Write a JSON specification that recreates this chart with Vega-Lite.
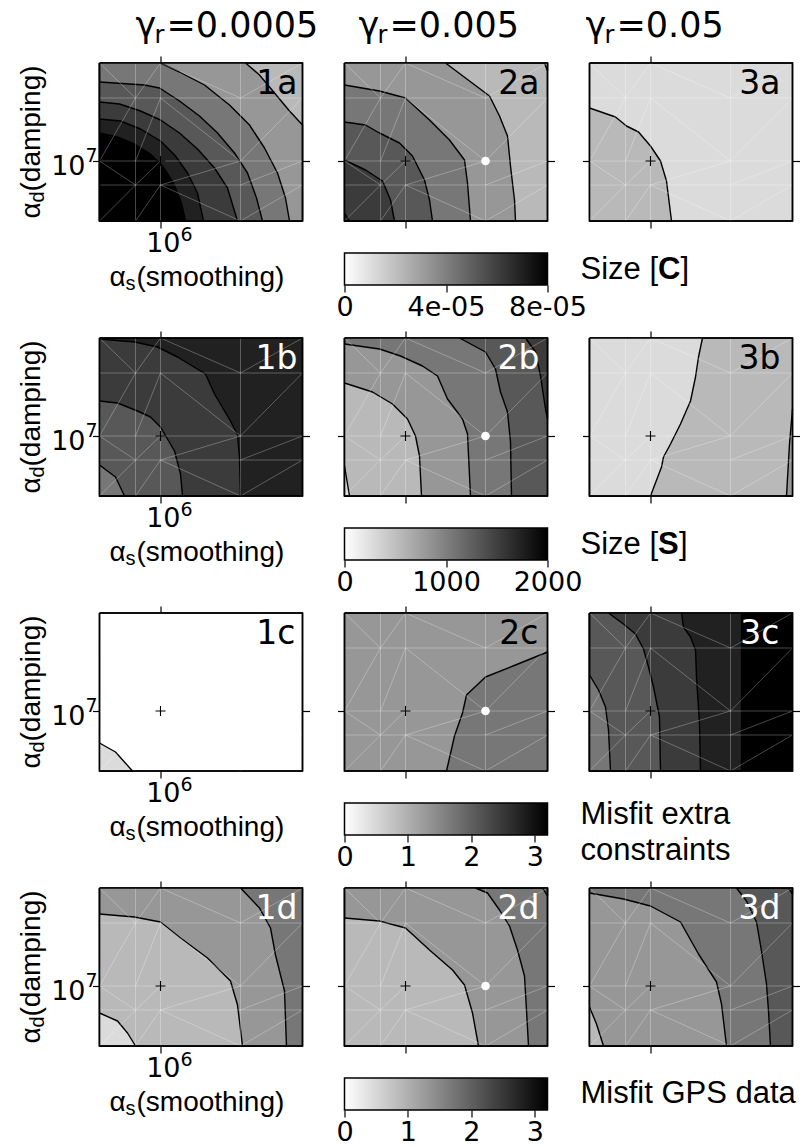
{
"$schema":"https://vega.github.io/schema/vega-lite/v6.json",
"background":"white",
"padding":{"left":16.5,"top":9,"right":5,"bottom":2},
"config":{"font":"Liberation Sans","view":{"stroke":null},"axis":{"domain":false,"grid":false,"labels":false,"ticks":true,"tickSize":7,"tickColor":"black","tickWidth":1.2,"labelFont":"DejaVu Sans"},"text":{"font":"DejaVu Sans","fill":"black"}},
"datasets":{
"plus":[{"x":6,"y":7}],
"dots":[{"x":6.8,"y":7}],
"mesh":[
{"x1":5.75,"y1":6.4,"x2":5.75,"y2":7.98},{"x1":6.0,"y1":6.4,"x2":6.0,"y2":7.98},{"x1":6.8,"y1":6.4,"x2":6.8,"y2":7.98},
{"x1":5.39,"y1":7.63,"x2":7.42,"y2":7.63},{"x1":5.39,"y1":7.0,"x2":7.42,"y2":7.0},{"x1":5.39,"y1":6.76,"x2":7.42,"y2":6.76},
{"x1":5.39,"y1":7.98,"x2":5.75,"y2":7.63},{"x1":5.75,"y1":7.63,"x2":6.0,"y2":7.98},{"x1":6.0,"y1":7.98,"x2":6.8,"y2":7.63},{"x1":6.8,"y1":7.63,"x2":7.42,"y2":7.98},
{"x1":5.39,"y1":7.0,"x2":5.75,"y2":7.63},{"x1":5.75,"y1":7.0,"x2":6.0,"y2":7.63},{"x1":6.0,"y1":7.63,"x2":6.8,"y2":7.0},{"x1":6.8,"y1":7.0,"x2":7.42,"y2":7.63},
{"x1":5.39,"y1":7.0,"x2":5.75,"y2":6.76},{"x1":5.75,"y1":6.76,"x2":6.0,"y2":7.0},{"x1":6.0,"y1":6.76,"x2":6.8,"y2":7.0},{"x1":6.8,"y1":6.76,"x2":7.42,"y2":7.0},
{"x1":5.39,"y1":6.4,"x2":5.75,"y2":6.76},{"x1":5.75,"y1":6.4,"x2":6.0,"y2":6.76},{"x1":6.0,"y1":6.76,"x2":6.8,"y2":6.4},{"x1":6.8,"y1":6.4,"x2":7.42,"y2":6.76}
],
"bands":[
{"p":"1a","c":0,"v":2e-05,"x":5.39,"y":7.98},{"p":"1a","c":0,"v":2e-05,"x":7.42,"y":7.98},{"p":"1a","c":0,"v":2e-05,"x":7.42,"y":6.4},{"p":"1a","c":0,"v":2e-05,"x":5.39,"y":6.4},{"p":"1a","c":0,"v":2e-05,"x":5.39,"y":7.98},
{"p":"1a","c":1,"v":3e-05,"x":6.85,"y":7.98},{"p":"1a","c":1,"v":3e-05,"x":6.99,"y":7.86},{"p":"1a","c":1,"v":3e-05,"x":7.14,"y":7.68},{"p":"1a","c":1,"v":3e-05,"x":7.29,"y":7.5},{"p":"1a","c":1,"v":3e-05,"x":7.42,"y":7.36},{"p":"1a","c":1,"v":3e-05,"x":7.42,"y":6.4},{"p":"1a","c":1,"v":3e-05,"x":5.39,"y":6.4},{"p":"1a","c":1,"v":3e-05,"x":5.39,"y":7.98},
{"p":"1a","c":2,"v":4e-05,"x":6.0,"y":7.98},{"p":"1a","c":2,"v":4e-05,"x":6.19,"y":7.89},{"p":"1a","c":2,"v":4e-05,"x":6.44,"y":7.76},{"p":"1a","c":2,"v":4e-05,"x":6.69,"y":7.56},{"p":"1a","c":2,"v":4e-05,"x":6.89,"y":7.36},{"p":"1a","c":2,"v":4e-05,"x":7.04,"y":7.13},{"p":"1a","c":2,"v":4e-05,"x":7.17,"y":6.88},{"p":"1a","c":2,"v":4e-05,"x":7.25,"y":6.63},{"p":"1a","c":2,"v":4e-05,"x":7.29,"y":6.4},{"p":"1a","c":2,"v":4e-05,"x":5.39,"y":6.4},{"p":"1a","c":2,"v":4e-05,"x":5.39,"y":7.98},
{"p":"1a","c":3,"v":5e-05,"x":5.39,"y":7.79},{"p":"1a","c":3,"v":5e-05,"x":5.84,"y":7.76},{"p":"1a","c":3,"v":5e-05,"x":5.99,"y":7.73},{"p":"1a","c":3,"v":5e-05,"x":6.19,"y":7.6},{"p":"1a","c":3,"v":5e-05,"x":6.39,"y":7.45},{"p":"1a","c":3,"v":5e-05,"x":6.57,"y":7.28},{"p":"1a","c":3,"v":5e-05,"x":6.74,"y":7.08},{"p":"1a","c":3,"v":5e-05,"x":6.87,"y":6.88},{"p":"1a","c":3,"v":5e-05,"x":6.96,"y":6.63},{"p":"1a","c":3,"v":5e-05,"x":7.02,"y":6.4},{"p":"1a","c":3,"v":5e-05,"x":5.39,"y":6.4},
{"p":"1a","c":4,"v":6e-05,"x":5.39,"y":7.59},{"p":"1a","c":4,"v":6e-05,"x":5.59,"y":7.57},{"p":"1a","c":4,"v":6e-05,"x":5.8,"y":7.5},{"p":"1a","c":4,"v":6e-05,"x":6.0,"y":7.41},{"p":"1a","c":4,"v":6e-05,"x":6.19,"y":7.28},{"p":"1a","c":4,"v":6e-05,"x":6.37,"y":7.12},{"p":"1a","c":4,"v":6e-05,"x":6.54,"y":6.93},{"p":"1a","c":4,"v":6e-05,"x":6.67,"y":6.73},{"p":"1a","c":4,"v":6e-05,"x":6.77,"y":6.4},{"p":"1a","c":4,"v":6e-05,"x":5.39,"y":6.4},
{"p":"1a","c":5,"v":7e-05,"x":5.39,"y":7.42},{"p":"1a","c":5,"v":7e-05,"x":5.6,"y":7.4},{"p":"1a","c":5,"v":7e-05,"x":5.8,"y":7.32},{"p":"1a","c":5,"v":7e-05,"x":6.0,"y":7.2},{"p":"1a","c":5,"v":7e-05,"x":6.15,"y":7.05},{"p":"1a","c":5,"v":7e-05,"x":6.27,"y":6.88},{"p":"1a","c":5,"v":7e-05,"x":6.37,"y":6.68},{"p":"1a","c":5,"v":7e-05,"x":6.43,"y":6.4},{"p":"1a","c":5,"v":7e-05,"x":5.39,"y":6.4},
{"p":"1a","c":6,"v":8e-05,"x":5.39,"y":7.28},{"p":"1a","c":6,"v":8e-05,"x":5.57,"y":7.24},{"p":"1a","c":6,"v":8e-05,"x":5.74,"y":7.17},{"p":"1a","c":6,"v":8e-05,"x":5.9,"y":7.07},{"p":"1a","c":6,"v":8e-05,"x":6.03,"y":6.94},{"p":"1a","c":6,"v":8e-05,"x":6.13,"y":6.78},{"p":"1a","c":6,"v":8e-05,"x":6.21,"y":6.58},{"p":"1a","c":6,"v":8e-05,"x":6.25,"y":6.4},{"p":"1a","c":6,"v":8e-05,"x":5.39,"y":6.4},
{"p":"2a","c":0,"v":2e-05,"x":5.39,"y":7.98},{"p":"2a","c":0,"v":2e-05,"x":7.42,"y":7.98},{"p":"2a","c":0,"v":2e-05,"x":7.42,"y":6.4},{"p":"2a","c":0,"v":2e-05,"x":5.39,"y":6.4},{"p":"2a","c":0,"v":2e-05,"x":5.39,"y":7.98},
{"p":"2a","c":1,"v":1e-05,"x":7.39,"y":7.98},{"p":"2a","c":1,"v":1e-05,"x":7.42,"y":7.9},{"p":"2a","c":1,"v":1e-05,"x":7.42,"y":7.98},
{"p":"2a","c":2,"v":3e-05,"x":6.4,"y":7.98},{"p":"2a","c":2,"v":3e-05,"x":6.84,"y":7.65},{"p":"2a","c":2,"v":3e-05,"x":6.94,"y":7.45},{"p":"2a","c":2,"v":3e-05,"x":7.02,"y":7.25},{"p":"2a","c":2,"v":3e-05,"x":7.05,"y":6.95},{"p":"2a","c":2,"v":3e-05,"x":7.09,"y":6.61},{"p":"2a","c":2,"v":3e-05,"x":7.1,"y":6.4},{"p":"2a","c":2,"v":3e-05,"x":5.39,"y":6.4},{"p":"2a","c":2,"v":3e-05,"x":5.39,"y":7.98},
{"p":"2a","c":3,"v":4e-05,"x":5.39,"y":7.76},{"p":"2a","c":3,"v":4e-05,"x":5.74,"y":7.7},{"p":"2a","c":3,"v":4e-05,"x":6.0,"y":7.63},{"p":"2a","c":3,"v":4e-05,"x":6.24,"y":7.41},{"p":"2a","c":3,"v":4e-05,"x":6.44,"y":7.21},{"p":"2a","c":3,"v":4e-05,"x":6.59,"y":7.01},{"p":"2a","c":3,"v":4e-05,"x":6.62,"y":6.78},{"p":"2a","c":3,"v":4e-05,"x":6.65,"y":6.4},{"p":"2a","c":3,"v":4e-05,"x":5.39,"y":6.4},
{"p":"2a","c":4,"v":5e-05,"x":5.39,"y":7.39},{"p":"2a","c":4,"v":5e-05,"x":5.6,"y":7.36},{"p":"2a","c":4,"v":5e-05,"x":5.74,"y":7.28},{"p":"2a","c":4,"v":5e-05,"x":5.94,"y":7.18},{"p":"2a","c":4,"v":5e-05,"x":6.07,"y":7.05},{"p":"2a","c":4,"v":5e-05,"x":6.19,"y":6.81},{"p":"2a","c":4,"v":5e-05,"x":6.24,"y":6.61},{"p":"2a","c":4,"v":5e-05,"x":6.27,"y":6.4},{"p":"2a","c":4,"v":5e-05,"x":5.39,"y":6.4},
{"p":"2a","c":5,"v":6e-05,"x":5.39,"y":7.01},{"p":"2a","c":5,"v":6e-05,"x":5.6,"y":6.91},{"p":"2a","c":5,"v":6e-05,"x":5.77,"y":6.8},{"p":"2a","c":5,"v":6e-05,"x":5.85,"y":6.61},{"p":"2a","c":5,"v":6e-05,"x":5.89,"y":6.4},{"p":"2a","c":5,"v":6e-05,"x":5.39,"y":6.4},
{"p":"2a","c":6,"v":7e-05,"x":5.39,"y":6.48},{"p":"2a","c":6,"v":7e-05,"x":5.44,"y":6.4},{"p":"2a","c":6,"v":7e-05,"x":5.39,"y":6.4},
{"p":"3a","c":0,"v":1e-05,"x":5.39,"y":7.98},{"p":"3a","c":0,"v":1e-05,"x":7.42,"y":7.98},{"p":"3a","c":0,"v":1e-05,"x":7.42,"y":6.4},{"p":"3a","c":0,"v":1e-05,"x":5.39,"y":6.4},{"p":"3a","c":0,"v":1e-05,"x":5.39,"y":7.98},
{"p":"3a","c":1,"v":2e-05,"x":5.39,"y":7.53},{"p":"3a","c":1,"v":2e-05,"x":5.65,"y":7.44},{"p":"3a","c":1,"v":2e-05,"x":5.76,"y":7.35},{"p":"3a","c":1,"v":2e-05,"x":5.88,"y":7.29},{"p":"3a","c":1,"v":2e-05,"x":6.0,"y":7.15},{"p":"3a","c":1,"v":2e-05,"x":6.1,"y":7.0},{"p":"3a","c":1,"v":2e-05,"x":6.16,"y":6.8},{"p":"3a","c":1,"v":2e-05,"x":6.21,"y":6.4},{"p":"3a","c":1,"v":2e-05,"x":5.39,"y":6.4},
{"p":"1b","c":0,"v":1750,"x":5.39,"y":7.98},{"p":"1b","c":0,"v":1750,"x":7.42,"y":7.98},{"p":"1b","c":0,"v":1750,"x":7.42,"y":6.4},{"p":"1b","c":0,"v":1750,"x":5.39,"y":6.4},{"p":"1b","c":0,"v":1750,"x":5.39,"y":7.98},
{"p":"1b","c":1,"v":1500,"x":5.39,"y":7.97},{"p":"1b","c":1,"v":1500,"x":5.74,"y":7.94},{"p":"1b","c":1,"v":1500,"x":5.97,"y":7.89},{"p":"1b","c":1,"v":1500,"x":6.17,"y":7.79},{"p":"1b","c":1,"v":1500,"x":6.45,"y":7.62},{"p":"1b","c":1,"v":1500,"x":6.54,"y":7.42},{"p":"1b","c":1,"v":1500,"x":6.7,"y":7.15},{"p":"1b","c":1,"v":1500,"x":6.77,"y":7.01},{"p":"1b","c":1,"v":1500,"x":6.79,"y":6.79},{"p":"1b","c":1,"v":1500,"x":6.8,"y":6.4},{"p":"1b","c":1,"v":1500,"x":5.39,"y":6.4},
{"p":"1b","c":2,"v":1250,"x":5.39,"y":7.35},{"p":"1b","c":2,"v":1250,"x":5.57,"y":7.33},{"p":"1b","c":2,"v":1250,"x":5.77,"y":7.25},{"p":"1b","c":2,"v":1250,"x":5.9,"y":7.19},{"p":"1b","c":2,"v":1250,"x":6.0,"y":7.09},{"p":"1b","c":2,"v":1250,"x":6.14,"y":6.85},{"p":"1b","c":2,"v":1250,"x":6.2,"y":6.62},{"p":"1b","c":2,"v":1250,"x":6.22,"y":6.4},{"p":"1b","c":2,"v":1250,"x":5.39,"y":6.4},
{"p":"1b","c":3,"v":1000,"x":5.39,"y":6.71},{"p":"1b","c":3,"v":1000,"x":5.55,"y":6.59},{"p":"1b","c":3,"v":1000,"x":5.64,"y":6.4},{"p":"1b","c":3,"v":1000,"x":5.39,"y":6.4},
{"p":"2b","c":0,"v":1250,"x":5.39,"y":7.98},{"p":"2b","c":0,"v":1250,"x":7.42,"y":7.98},{"p":"2b","c":0,"v":1250,"x":7.42,"y":6.4},{"p":"2b","c":0,"v":1250,"x":5.39,"y":6.4},{"p":"2b","c":0,"v":1250,"x":5.39,"y":7.98},
{"p":"2b","c":1,"v":1500,"x":7.2,"y":7.98},{"p":"2b","c":1,"v":1500,"x":7.3,"y":7.84},{"p":"2b","c":1,"v":1500,"x":7.35,"y":7.6},{"p":"2b","c":1,"v":1500,"x":7.4,"y":7.27},{"p":"2b","c":1,"v":1500,"x":7.42,"y":7.17},{"p":"2b","c":1,"v":1500,"x":7.42,"y":7.98},
{"p":"2b","c":2,"v":1000,"x":6.54,"y":7.98},{"p":"2b","c":2,"v":1000,"x":6.8,"y":7.84},{"p":"2b","c":2,"v":1000,"x":6.9,"y":7.67},{"p":"2b","c":2,"v":1000,"x":6.95,"y":7.44},{"p":"2b","c":2,"v":1000,"x":7.02,"y":7.24},{"p":"2b","c":2,"v":1000,"x":7.05,"y":6.94},{"p":"2b","c":2,"v":1000,"x":7.06,"y":6.4},{"p":"2b","c":2,"v":1000,"x":5.39,"y":6.4},{"p":"2b","c":2,"v":1000,"x":5.39,"y":7.98},
{"p":"2b","c":3,"v":750,"x":5.39,"y":7.92},{"p":"2b","c":3,"v":750,"x":5.74,"y":7.87},{"p":"2b","c":3,"v":750,"x":5.95,"y":7.8},{"p":"2b","c":3,"v":750,"x":6.17,"y":7.7},{"p":"2b","c":3,"v":750,"x":6.32,"y":7.6},{"p":"2b","c":3,"v":750,"x":6.42,"y":7.37},{"p":"2b","c":3,"v":750,"x":6.57,"y":7.17},{"p":"2b","c":3,"v":750,"x":6.62,"y":7.02},{"p":"2b","c":3,"v":750,"x":6.65,"y":6.4},{"p":"2b","c":3,"v":750,"x":5.39,"y":6.4},
{"p":"2b","c":4,"v":500,"x":5.39,"y":7.53},{"p":"2b","c":4,"v":500,"x":5.67,"y":7.44},{"p":"2b","c":4,"v":500,"x":5.87,"y":7.32},{"p":"2b","c":4,"v":500,"x":6.02,"y":7.17},{"p":"2b","c":4,"v":500,"x":6.1,"y":7.0},{"p":"2b","c":4,"v":500,"x":6.14,"y":6.8},{"p":"2b","c":4,"v":500,"x":6.16,"y":6.4},{"p":"2b","c":4,"v":500,"x":5.39,"y":6.4},
{"p":"2b","c":5,"v":250,"x":5.39,"y":6.7},{"p":"2b","c":5,"v":250,"x":5.44,"y":6.4},{"p":"2b","c":5,"v":250,"x":5.39,"y":6.4},
{"p":"3b","c":0,"v":500,"x":5.39,"y":7.98},{"p":"3b","c":0,"v":500,"x":7.42,"y":7.98},{"p":"3b","c":0,"v":500,"x":7.42,"y":6.4},{"p":"3b","c":0,"v":500,"x":5.39,"y":6.4},{"p":"3b","c":0,"v":500,"x":5.39,"y":7.98},
{"p":"3b","c":1,"v":250,"x":6.52,"y":7.98},{"p":"3b","c":1,"v":250,"x":6.48,"y":7.79},{"p":"3b","c":1,"v":250,"x":6.45,"y":7.59},{"p":"3b","c":1,"v":250,"x":6.4,"y":7.35},{"p":"3b","c":1,"v":250,"x":6.3,"y":7.12},{"p":"3b","c":1,"v":250,"x":6.2,"y":6.92},{"p":"3b","c":1,"v":250,"x":6.13,"y":6.79},{"p":"3b","c":1,"v":250,"x":6.11,"y":6.69},{"p":"3b","c":1,"v":250,"x":6.0,"y":6.4},{"p":"3b","c":1,"v":250,"x":5.39,"y":6.4},{"p":"3b","c":1,"v":250,"x":5.39,"y":7.98},
{"p":"3b","c":2,"v":750,"x":7.42,"y":7.27},{"p":"3b","c":2,"v":750,"x":7.39,"y":6.92},{"p":"3b","c":2,"v":750,"x":7.36,"y":6.4},{"p":"3b","c":2,"v":750,"x":7.42,"y":6.4},
{"p":"1c","c":0,"v":0,"x":5.39,"y":7.98},{"p":"1c","c":0,"v":0,"x":7.42,"y":7.98},{"p":"1c","c":0,"v":0,"x":7.42,"y":6.4},{"p":"1c","c":0,"v":0,"x":5.39,"y":6.4},{"p":"1c","c":0,"v":0,"x":5.39,"y":7.98},
{"p":"1c","c":1,"v":0.4,"x":5.39,"y":6.68},{"p":"1c","c":1,"v":0.4,"x":5.55,"y":6.59},{"p":"1c","c":1,"v":0.4,"x":5.72,"y":6.4},{"p":"1c","c":1,"v":0.4,"x":5.39,"y":6.4},
{"p":"2c","c":0,"v":1.2,"x":5.39,"y":7.98},{"p":"2c","c":0,"v":1.2,"x":7.42,"y":7.98},{"p":"2c","c":0,"v":1.2,"x":7.42,"y":6.4},{"p":"2c","c":0,"v":1.2,"x":5.39,"y":6.4},{"p":"2c","c":0,"v":1.2,"x":5.39,"y":7.98},
{"p":"2c","c":1,"v":1.6,"x":6.41,"y":6.4},{"p":"2c","c":1,"v":1.6,"x":6.49,"y":6.75},{"p":"2c","c":1,"v":1.6,"x":6.57,"y":6.98},{"p":"2c","c":1,"v":1.6,"x":6.61,"y":7.16},{"p":"2c","c":1,"v":1.6,"x":6.8,"y":7.34},{"p":"2c","c":1,"v":1.6,"x":7.1,"y":7.46},{"p":"2c","c":1,"v":1.6,"x":7.42,"y":7.59},{"p":"2c","c":1,"v":1.6,"x":7.42,"y":6.4},
{"p":"3c","c":0,"v":3.2,"x":5.39,"y":7.98},{"p":"3c","c":0,"v":3.2,"x":7.42,"y":7.98},{"p":"3c","c":0,"v":3.2,"x":7.42,"y":6.4},{"p":"3c","c":0,"v":3.2,"x":5.39,"y":6.4},{"p":"3c","c":0,"v":3.2,"x":5.39,"y":7.98},
{"p":"3c","c":1,"v":2.8,"x":6.91,"y":7.98},{"p":"3c","c":1,"v":2.8,"x":6.91,"y":6.4},{"p":"3c","c":1,"v":2.8,"x":5.39,"y":6.4},{"p":"3c","c":1,"v":2.8,"x":5.39,"y":7.98},
{"p":"3c","c":2,"v":2.4,"x":6.31,"y":7.98},{"p":"3c","c":2,"v":2.4,"x":6.33,"y":7.84},{"p":"3c","c":2,"v":2.4,"x":6.4,"y":7.74},{"p":"3c","c":2,"v":2.4,"x":6.45,"y":7.61},{"p":"3c","c":2,"v":2.4,"x":6.46,"y":7.34},{"p":"3c","c":2,"v":2.4,"x":6.49,"y":6.87},{"p":"3c","c":2,"v":2.4,"x":6.5,"y":6.4},{"p":"3c","c":2,"v":2.4,"x":5.39,"y":6.4},{"p":"3c","c":2,"v":2.4,"x":5.39,"y":7.98},
{"p":"3c","c":3,"v":2.0,"x":5.58,"y":7.98},{"p":"3c","c":3,"v":2.0,"x":5.73,"y":7.87},{"p":"3c","c":3,"v":2.0,"x":5.85,"y":7.77},{"p":"3c","c":3,"v":2.0,"x":5.93,"y":7.62},{"p":"3c","c":3,"v":2.0,"x":5.98,"y":7.44},{"p":"3c","c":3,"v":2.0,"x":6.03,"y":7.24},{"p":"3c","c":3,"v":2.0,"x":6.09,"y":6.94},{"p":"3c","c":3,"v":2.0,"x":6.1,"y":6.4},{"p":"3c","c":3,"v":2.0,"x":5.39,"y":6.4},{"p":"3c","c":3,"v":2.0,"x":5.39,"y":7.98},
{"p":"3c","c":4,"v":1.6,"x":5.39,"y":7.36},{"p":"3c","c":4,"v":1.6,"x":5.48,"y":7.21},{"p":"3c","c":4,"v":1.6,"x":5.55,"y":7.04},{"p":"3c","c":4,"v":1.6,"x":5.58,"y":6.81},{"p":"3c","c":4,"v":1.6,"x":5.6,"y":6.4},{"p":"3c","c":4,"v":1.6,"x":5.39,"y":6.4},
{"p":"1d","c":0,"v":1.6,"x":5.39,"y":7.98},{"p":"1d","c":0,"v":1.6,"x":7.42,"y":7.98},{"p":"1d","c":0,"v":1.6,"x":7.42,"y":6.4},{"p":"1d","c":0,"v":1.6,"x":5.39,"y":6.4},{"p":"1d","c":0,"v":1.6,"x":5.39,"y":7.98},
{"p":"1d","c":1,"v":1.2,"x":6.8,"y":7.98},{"p":"1d","c":1,"v":1.2,"x":6.99,"y":7.78},{"p":"1d","c":1,"v":1.2,"x":7.1,"y":7.58},{"p":"1d","c":1,"v":1.2,"x":7.15,"y":7.31},{"p":"1d","c":1,"v":1.2,"x":7.24,"y":6.95},{"p":"1d","c":1,"v":1.2,"x":7.26,"y":6.4},{"p":"1d","c":1,"v":1.2,"x":5.39,"y":6.4},{"p":"1d","c":1,"v":1.2,"x":5.39,"y":7.98},
{"p":"1d","c":2,"v":0.8,"x":5.39,"y":7.72},{"p":"1d","c":2,"v":0.8,"x":5.74,"y":7.69},{"p":"1d","c":2,"v":0.8,"x":6.0,"y":7.64},{"p":"1d","c":2,"v":0.8,"x":6.2,"y":7.48},{"p":"1d","c":2,"v":0.8,"x":6.47,"y":7.28},{"p":"1d","c":2,"v":0.8,"x":6.7,"y":7.05},{"p":"1d","c":2,"v":0.8,"x":6.77,"y":6.81},{"p":"1d","c":2,"v":0.8,"x":6.82,"y":6.4},{"p":"1d","c":2,"v":0.8,"x":5.39,"y":6.4},
{"p":"1d","c":3,"v":0.4,"x":5.39,"y":6.73},{"p":"1d","c":3,"v":0.4,"x":5.57,"y":6.65},{"p":"1d","c":3,"v":0.4,"x":5.67,"y":6.53},{"p":"1d","c":3,"v":0.4,"x":5.75,"y":6.4},{"p":"1d","c":3,"v":0.4,"x":5.39,"y":6.4},
{"p":"2d","c":0,"v":1.6,"x":5.39,"y":7.98},{"p":"2d","c":0,"v":1.6,"x":7.42,"y":7.98},{"p":"2d","c":0,"v":1.6,"x":7.42,"y":6.4},{"p":"2d","c":0,"v":1.6,"x":5.39,"y":6.4},{"p":"2d","c":0,"v":1.6,"x":5.39,"y":7.98},
{"p":"2d","c":1,"v":2.0,"x":7.37,"y":7.98},{"p":"2d","c":1,"v":2.0,"x":7.42,"y":7.9},{"p":"2d","c":1,"v":2.0,"x":7.42,"y":7.98},
{"p":"2d","c":2,"v":1.2,"x":6.7,"y":7.98},{"p":"2d","c":2,"v":1.2,"x":6.82,"y":7.93},{"p":"2d","c":2,"v":1.2,"x":6.94,"y":7.76},{"p":"2d","c":2,"v":1.2,"x":7.04,"y":7.6},{"p":"2d","c":2,"v":1.2,"x":7.12,"y":7.36},{"p":"2d","c":2,"v":1.2,"x":7.19,"y":7.1},{"p":"2d","c":2,"v":1.2,"x":7.21,"y":6.76},{"p":"2d","c":2,"v":1.2,"x":7.23,"y":6.4},{"p":"2d","c":2,"v":1.2,"x":5.39,"y":6.4},{"p":"2d","c":2,"v":1.2,"x":5.39,"y":7.98},
{"p":"2d","c":3,"v":0.8,"x":5.39,"y":7.68},{"p":"2d","c":3,"v":0.8,"x":5.74,"y":7.65},{"p":"2d","c":3,"v":0.8,"x":6.0,"y":7.58},{"p":"2d","c":3,"v":0.8,"x":6.24,"y":7.36},{"p":"2d","c":3,"v":0.8,"x":6.47,"y":7.16},{"p":"2d","c":3,"v":0.8,"x":6.59,"y":7.01},{"p":"2d","c":3,"v":0.8,"x":6.67,"y":6.73},{"p":"2d","c":3,"v":0.8,"x":6.73,"y":6.4},{"p":"2d","c":3,"v":0.8,"x":5.39,"y":6.4},
{"p":"3d","c":0,"v":2.0,"x":5.39,"y":7.98},{"p":"3d","c":0,"v":2.0,"x":7.42,"y":7.98},{"p":"3d","c":0,"v":2.0,"x":7.42,"y":6.4},{"p":"3d","c":0,"v":2.0,"x":5.39,"y":6.4},{"p":"3d","c":0,"v":2.0,"x":5.39,"y":7.98},
{"p":"3d","c":1,"v":2.4,"x":7.38,"y":7.98},{"p":"3d","c":1,"v":2.4,"x":7.42,"y":7.92},{"p":"3d","c":1,"v":2.4,"x":7.42,"y":7.98},
{"p":"3d","c":2,"v":1.6,"x":6.86,"y":7.98},{"p":"3d","c":2,"v":1.6,"x":6.96,"y":7.85},{"p":"3d","c":2,"v":1.6,"x":7.06,"y":7.64},{"p":"3d","c":2,"v":1.6,"x":7.11,"y":7.35},{"p":"3d","c":2,"v":1.6,"x":7.16,"y":7.02},{"p":"3d","c":2,"v":1.6,"x":7.18,"y":6.75},{"p":"3d","c":2,"v":1.6,"x":7.2,"y":6.4},{"p":"3d","c":2,"v":1.6,"x":5.39,"y":6.4},{"p":"3d","c":2,"v":1.6,"x":5.39,"y":7.98},
{"p":"3d","c":3,"v":1.2,"x":5.39,"y":7.93},{"p":"3d","c":3,"v":1.2,"x":5.73,"y":7.87},{"p":"3d","c":3,"v":1.2,"x":6.0,"y":7.8},{"p":"3d","c":3,"v":1.2,"x":6.3,"y":7.64},{"p":"3d","c":3,"v":1.2,"x":6.48,"y":7.32},{"p":"3d","c":3,"v":1.2,"x":6.66,"y":7.04},{"p":"3d","c":3,"v":1.2,"x":6.71,"y":6.82},{"p":"3d","c":3,"v":1.2,"x":6.76,"y":6.4},{"p":"3d","c":3,"v":1.2,"x":5.39,"y":6.4},
{"p":"3d","c":4,"v":0.8,"x":5.39,"y":6.79},{"p":"3d","c":4,"v":0.8,"x":5.46,"y":6.62},{"p":"3d","c":4,"v":0.8,"x":5.53,"y":6.4},{"p":"3d","c":4,"v":0.8,"x":5.39,"y":6.4}
]
},
"columns":3,
"spacing":{"row":117,"column":42},
"bounds":"flush",
"resolve":{"scale":{"fill":"independent"}},
"concat":[
 {"width":203,"height":158,"resolve":{"axis":{"x":"independent","y":"independent"}},"layer":[
  {"data":{"name":"bands"},"transform":[{"filter":"datum.p == '1a'"}],"mark":{"type":"line","stroke":"black","strokeWidth":1.4,"strokeJoin":"round"},"encoding":{"x":{"field":"x","type":"quantitative","title":null,"scale":{"domain":[5.39,7.42],"nice":false,"zero":false},"axis":{"orient":"bottom","values":[6]}},"y":{"field":"y","type":"quantitative","title":null,"scale":{"domain":[6.4,7.98],"nice":false,"zero":false},"axis":{"orient":"left","values":[7]}},"detail":{"field":"c","type":"nominal"},"order":{"value":null},"fill":{"field":"v","type":"quantitative","scale":{"domain":[0,8e-05],"range":["#ffffff","#000000"]},"legend":null}}},
  {"data":{"name":"mesh"},"mark":{"type":"rule","stroke":"white","strokeOpacity":0.35,"strokeWidth":0.8},"encoding":{"x":{"field":"x1","type":"quantitative","title":null,"axis":{"orient":"top","values":[6]}},"y":{"field":"y1","type":"quantitative","title":null,"axis":{"orient":"right","values":[7]}},"x2":{"field":"x2"},"y2":{"field":"y2"}}},
  {"data":{"name":"bands"},"transform":[{"filter":"datum.p == '1a' && datum.c == 0"}],"mark":{"type":"line","stroke":"black","strokeWidth":1.6},"encoding":{"x":{"field":"x","type":"quantitative","axis":null},"y":{"field":"y","type":"quantitative","axis":null},"order":{"value":null}}},
  {"data":{"name":"plus"},"mark":{"type":"point","shape":"M-1,0L1,0M0,-1L0,1","size":100,"stroke":"black","strokeWidth":1.1,"filled":false,"opacity":1},"encoding":{"x":{"field":"x","type":"quantitative","axis":null},"y":{"field":"y","type":"quantitative","axis":null}}},
  {"data":{"values":[{}]},"mark":{"type":"text","text":"1a","fontSize":33,"align":"right","dx":-5,"dy":21},"encoding":{"x":{"datum":7.42,"type":"quantitative","axis":null},"y":{"datum":7.98,"type":"quantitative","axis":null}}},
  {"data":{"values":[{}]},"mark":{"type":"text","text":"γ","fontSize":35,"align":"left","dx":36,"dy":-37},"encoding":{"x":{"datum":5.39,"type":"quantitative","axis":null},"y":{"datum":7.98,"type":"quantitative","axis":null}}},
  {"data":{"values":[{}]},"mark":{"type":"text","text":"r","fontSize":24,"align":"left","dx":55,"dy":-27},"encoding":{"x":{"datum":5.39,"type":"quantitative","axis":null},"y":{"datum":7.98,"type":"quantitative","axis":null}}},
  {"data":{"values":[{}]},"mark":{"type":"text","text":"=0.0005","fontSize":35,"align":"left","dx":67,"dy":-37},"encoding":{"x":{"datum":5.39,"type":"quantitative","axis":null},"y":{"datum":7.98,"type":"quantitative","axis":null}}},
  {"data":{"values":[{}]},"mark":{"type":"text","text":"10","fontSize":27,"align":"right","dx":-14,"dy":6},"encoding":{"x":{"datum":5.39,"type":"quantitative","axis":null},"y":{"datum":7,"type":"quantitative","axis":null}}},
  {"data":{"values":[{}]},"mark":{"type":"text","text":"7","fontSize":19,"align":"left","dx":-14,"dy":-5},"encoding":{"x":{"datum":5.39,"type":"quantitative","axis":null},"y":{"datum":7,"type":"quantitative","axis":null}}},
  {"data":{"values":[{}]},"mark":{"type":"text","text":"10","fontSize":27,"align":"right","dx":20,"dy":23},"encoding":{"x":{"datum":6,"type":"quantitative","axis":null},"y":{"datum":6.4,"type":"quantitative","axis":null}}},
  {"data":{"values":[{}]},"mark":{"type":"text","text":"6","fontSize":19,"align":"left","dx":20,"dy":14},"encoding":{"x":{"datum":6,"type":"quantitative","axis":null},"y":{"datum":6.4,"type":"quantitative","axis":null}}},
  {"data":{"values":[{}]},"mark":{"type":"text","text":"α","font":"Liberation Sans","fontSize":28,"align":"left","angle":270,"dx":-76.5,"dy":-68},"encoding":{"x":{"datum":5.39,"type":"quantitative","axis":null},"y":{"datum":7.19,"type":"quantitative","axis":null}}},
  {"data":{"values":[{}]},"mark":{"type":"text","text":"d","font":"Liberation Sans","fontSize":20,"align":"left","angle":270,"dx":-60.5,"dy":-62},"encoding":{"x":{"datum":5.39,"type":"quantitative","axis":null},"y":{"datum":7.19,"type":"quantitative","axis":null}}},
  {"data":{"values":[{}]},"mark":{"type":"text","text":"(damping)","font":"Liberation Sans","fontSize":28,"align":"left","angle":270,"dx":-49.5,"dy":-68},"encoding":{"x":{"datum":5.39,"type":"quantitative","axis":null},"y":{"datum":7.19,"type":"quantitative","axis":null}}},
  {"data":{"values":[{}]},"mark":{"type":"text","text":"α","font":"Liberation Sans","fontSize":28,"align":"left","dx":10,"dy":57},"encoding":{"x":{"datum":5.39,"type":"quantitative","axis":null},"y":{"datum":6.4,"type":"quantitative","axis":null}}},
  {"data":{"values":[{}]},"mark":{"type":"text","text":"s","font":"Liberation Sans","fontSize":20,"align":"left","dx":26,"dy":63},"encoding":{"x":{"datum":5.39,"type":"quantitative","axis":null},"y":{"datum":6.4,"type":"quantitative","axis":null}}},
  {"data":{"values":[{}]},"mark":{"type":"text","text":"(smoothing)","font":"Liberation Sans","fontSize":28,"align":"left","dx":37,"dy":57},"encoding":{"x":{"datum":5.39,"type":"quantitative","axis":null},"y":{"datum":6.4,"type":"quantitative","axis":null}}}
 ]},
 {"width":203,"height":158,"resolve":{"scale":{"x":"independent","y":"independent"},"axis":{"x":"independent","y":"independent"}},"layer":[
  {"resolve":{"axis":{"x":"independent","y":"independent"}},"layer":[
   {"data":{"name":"bands"},"transform":[{"filter":"datum.p == '2a'"}],"mark":{"type":"line","stroke":"black","strokeWidth":1.4,"strokeJoin":"round"},"encoding":{"x":{"field":"x","type":"quantitative","title":null,"scale":{"domain":[5.39,7.42],"nice":false,"zero":false},"axis":{"orient":"bottom","values":[6]}},"y":{"field":"y","type":"quantitative","title":null,"scale":{"domain":[6.4,7.98],"nice":false,"zero":false},"axis":{"orient":"left","values":[7]}},"detail":{"field":"c","type":"nominal"},"order":{"value":null},"fill":{"field":"v","type":"quantitative","scale":{"domain":[0,8e-05],"range":["#ffffff","#000000"]},"legend":null}}},
   {"data":{"name":"mesh"},"mark":{"type":"rule","stroke":"white","strokeOpacity":0.35,"strokeWidth":0.8},"encoding":{"x":{"field":"x1","type":"quantitative","title":null,"axis":{"orient":"top","values":[6]}},"y":{"field":"y1","type":"quantitative","title":null,"axis":{"orient":"right","values":[7]}},"x2":{"field":"x2"},"y2":{"field":"y2"}}},
   {"data":{"name":"bands"},"transform":[{"filter":"datum.p == '2a' && datum.c == 0"}],"mark":{"type":"line","stroke":"black","strokeWidth":1.6},"encoding":{"x":{"field":"x","type":"quantitative","axis":null},"y":{"field":"y","type":"quantitative","axis":null},"order":{"value":null}}},
   {"data":{"name":"plus"},"mark":{"type":"point","shape":"M-1,0L1,0M0,-1L0,1","size":100,"stroke":"black","strokeWidth":1.1,"filled":false,"opacity":1},"encoding":{"x":{"field":"x","type":"quantitative","axis":null},"y":{"field":"y","type":"quantitative","axis":null}}},
   {"data":{"name":"dots"},"mark":{"type":"circle","size":75,"fill":"white","opacity":1},"encoding":{"x":{"field":"x","type":"quantitative","axis":null},"y":{"field":"y","type":"quantitative","axis":null}}},
   {"data":{"values":[{}]},"mark":{"type":"text","text":"2a","fontSize":33,"align":"right","dx":-8,"dy":21},"encoding":{"x":{"datum":7.42,"type":"quantitative","axis":null},"y":{"datum":7.98,"type":"quantitative","axis":null}}},
   {"data":{"values":[{}]},"mark":{"type":"text","text":"γ","fontSize":35,"align":"left","dx":14,"dy":-37},"encoding":{"x":{"datum":5.39,"type":"quantitative","axis":null},"y":{"datum":7.98,"type":"quantitative","axis":null}}},
   {"data":{"values":[{}]},"mark":{"type":"text","text":"r","fontSize":24,"align":"left","dx":33,"dy":-27},"encoding":{"x":{"datum":5.39,"type":"quantitative","axis":null},"y":{"datum":7.98,"type":"quantitative","axis":null}}},
   {"data":{"values":[{}]},"mark":{"type":"text","text":"=0.005","fontSize":35,"align":"left","dx":45,"dy":-37},"encoding":{"x":{"datum":5.39,"type":"quantitative","axis":null},"y":{"datum":7.98,"type":"quantitative","axis":null}}}
  ]},
  {"resolve":{"axis":{"x":"independent","y":"independent"}},"layer":[
   {"data":{"values":[{"lo":0,"hi":8e-05,"b":0,"t":1}]},"mark":{"type":"rect","fill":{"gradient":"linear","x1":0,"y1":0,"x2":1,"y2":0,"stops":[{"offset":0,"color":"#ffffff"},{"offset":1,"color":"#000000"}]},"stroke":"black","strokeWidth":1.5},"encoding":{"x":{"field":"lo","type":"quantitative","title":null,"scale":{"domain":[0,8e-05],"nice":false,"zero":false},"axis":{"orient":"bottom","offset":64,"values":[0,4e-05,8e-05],"labels":true,"labelFontSize":27,"labelPadding":2,"labelFlush":false,"labelOverlap":false,"labelColor":"black","labelExpr":"datum.value == 0 ? '0' : (datum.value < 6e-05 ? '4e-05' : '8e-05')"}},"x2":{"field":"hi"},"y":{"field":"b","type":"quantitative","title":null,"scale":{"domain":[2,6.9375],"nice":false,"zero":false},"axis":null},"y2":{"field":"t"}}},
   {"data":{"values":[{}]},"mark":{"type":"text","text":"Size [","font":"Liberation Sans","fontSize":31,"align":"left","dx":33,"dy":1},"encoding":{"x":{"datum":8e-05,"type":"quantitative","axis":null},"y":{"datum":0.5,"type":"quantitative","axis":null}}},
   {"data":{"values":[{}]},"mark":{"type":"text","text":"C","font":"Liberation Sans","fontSize":31,"fontWeight":"bold","align":"left","dx":110.5,"dy":1},"encoding":{"x":{"datum":8e-05,"type":"quantitative","axis":null},"y":{"datum":0.5,"type":"quantitative","axis":null}}},
   {"data":{"values":[{}]},"mark":{"type":"text","text":"]","font":"Liberation Sans","fontSize":31,"align":"left","dx":133,"dy":1},"encoding":{"x":{"datum":8e-05,"type":"quantitative","axis":null},"y":{"datum":0.5,"type":"quantitative","axis":null}}}
  ]}
 ]},
 {"width":203,"height":158,"resolve":{"axis":{"x":"independent","y":"independent"}},"layer":[
  {"data":{"name":"bands"},"transform":[{"filter":"datum.p == '3a'"}],"mark":{"type":"line","stroke":"black","strokeWidth":1.4,"strokeJoin":"round"},"encoding":{"x":{"field":"x","type":"quantitative","title":null,"scale":{"domain":[5.39,7.42],"nice":false,"zero":false},"axis":{"orient":"bottom","values":[6]}},"y":{"field":"y","type":"quantitative","title":null,"scale":{"domain":[6.4,7.98],"nice":false,"zero":false},"axis":{"orient":"left","values":[7]}},"detail":{"field":"c","type":"nominal"},"order":{"value":null},"fill":{"field":"v","type":"quantitative","scale":{"domain":[0,8e-05],"range":["#ffffff","#000000"]},"legend":null}}},
  {"data":{"name":"mesh"},"mark":{"type":"rule","stroke":"white","strokeOpacity":0.35,"strokeWidth":0.8},"encoding":{"x":{"field":"x1","type":"quantitative","title":null,"axis":{"orient":"top","values":[6]}},"y":{"field":"y1","type":"quantitative","title":null,"axis":{"orient":"right","values":[7]}},"x2":{"field":"x2"},"y2":{"field":"y2"}}},
  {"data":{"name":"bands"},"transform":[{"filter":"datum.p == '3a' && datum.c == 0"}],"mark":{"type":"line","stroke":"black","strokeWidth":1.6},"encoding":{"x":{"field":"x","type":"quantitative","axis":null},"y":{"field":"y","type":"quantitative","axis":null},"order":{"value":null}}},
  {"data":{"name":"plus"},"mark":{"type":"point","shape":"M-1,0L1,0M0,-1L0,1","size":100,"stroke":"black","strokeWidth":1.1,"filled":false,"opacity":1},"encoding":{"x":{"field":"x","type":"quantitative","axis":null},"y":{"field":"y","type":"quantitative","axis":null}}},
  {"data":{"values":[{}]},"mark":{"type":"text","text":"3a","fontSize":33,"align":"right","dx":-12,"dy":21},"encoding":{"x":{"datum":7.42,"type":"quantitative","axis":null},"y":{"datum":7.98,"type":"quantitative","axis":null}}},
  {"data":{"values":[{}]},"mark":{"type":"text","text":"γ","fontSize":35,"align":"left","dx":-4,"dy":-37},"encoding":{"x":{"datum":5.39,"type":"quantitative","axis":null},"y":{"datum":7.98,"type":"quantitative","axis":null}}},
  {"data":{"values":[{}]},"mark":{"type":"text","text":"r","fontSize":24,"align":"left","dx":15,"dy":-27},"encoding":{"x":{"datum":5.39,"type":"quantitative","axis":null},"y":{"datum":7.98,"type":"quantitative","axis":null}}},
  {"data":{"values":[{}]},"mark":{"type":"text","text":"=0.05","fontSize":35,"align":"left","dx":27,"dy":-37},"encoding":{"x":{"datum":5.39,"type":"quantitative","axis":null},"y":{"datum":7.98,"type":"quantitative","axis":null}}}
 ]},
 {"width":203,"height":158,"resolve":{"axis":{"x":"independent","y":"independent"}},"layer":[
  {"data":{"name":"bands"},"transform":[{"filter":"datum.p == '1b'"}],"mark":{"type":"line","stroke":"black","strokeWidth":1.4,"strokeJoin":"round"},"encoding":{"x":{"field":"x","type":"quantitative","title":null,"scale":{"domain":[5.39,7.42],"nice":false,"zero":false},"axis":{"orient":"bottom","values":[6]}},"y":{"field":"y","type":"quantitative","title":null,"scale":{"domain":[6.4,7.98],"nice":false,"zero":false},"axis":{"orient":"left","values":[7]}},"detail":{"field":"c","type":"nominal"},"order":{"value":null},"fill":{"field":"v","type":"quantitative","scale":{"domain":[0,2000],"range":["#ffffff","#000000"]},"legend":null}}},
  {"data":{"name":"mesh"},"mark":{"type":"rule","stroke":"white","strokeOpacity":0.35,"strokeWidth":0.8},"encoding":{"x":{"field":"x1","type":"quantitative","title":null,"axis":{"orient":"top","values":[6]}},"y":{"field":"y1","type":"quantitative","title":null,"axis":{"orient":"right","values":[7]}},"x2":{"field":"x2"},"y2":{"field":"y2"}}},
  {"data":{"name":"bands"},"transform":[{"filter":"datum.p == '1b' && datum.c == 0"}],"mark":{"type":"line","stroke":"black","strokeWidth":1.6},"encoding":{"x":{"field":"x","type":"quantitative","axis":null},"y":{"field":"y","type":"quantitative","axis":null},"order":{"value":null}}},
  {"data":{"name":"plus"},"mark":{"type":"point","shape":"M-1,0L1,0M0,-1L0,1","size":100,"stroke":"black","strokeWidth":1.1,"filled":false,"opacity":1},"encoding":{"x":{"field":"x","type":"quantitative","axis":null},"y":{"field":"y","type":"quantitative","axis":null}}},
  {"data":{"values":[{}]},"mark":{"type":"text","text":"1b","fontSize":33,"align":"right","dx":-5,"dy":21,"fill":"white"},"encoding":{"x":{"datum":7.42,"type":"quantitative","axis":null},"y":{"datum":7.98,"type":"quantitative","axis":null}}},
  {"data":{"values":[{}]},"mark":{"type":"text","text":"10","fontSize":27,"align":"right","dx":-14,"dy":6},"encoding":{"x":{"datum":5.39,"type":"quantitative","axis":null},"y":{"datum":7,"type":"quantitative","axis":null}}},
  {"data":{"values":[{}]},"mark":{"type":"text","text":"7","fontSize":19,"align":"left","dx":-14,"dy":-5},"encoding":{"x":{"datum":5.39,"type":"quantitative","axis":null},"y":{"datum":7,"type":"quantitative","axis":null}}},
  {"data":{"values":[{}]},"mark":{"type":"text","text":"10","fontSize":27,"align":"right","dx":20,"dy":23},"encoding":{"x":{"datum":6,"type":"quantitative","axis":null},"y":{"datum":6.4,"type":"quantitative","axis":null}}},
  {"data":{"values":[{}]},"mark":{"type":"text","text":"6","fontSize":19,"align":"left","dx":20,"dy":14},"encoding":{"x":{"datum":6,"type":"quantitative","axis":null},"y":{"datum":6.4,"type":"quantitative","axis":null}}},
  {"data":{"values":[{}]},"mark":{"type":"text","text":"α","font":"Liberation Sans","fontSize":28,"align":"left","angle":270,"dx":-76.5,"dy":-68},"encoding":{"x":{"datum":5.39,"type":"quantitative","axis":null},"y":{"datum":7.19,"type":"quantitative","axis":null}}},
  {"data":{"values":[{}]},"mark":{"type":"text","text":"d","font":"Liberation Sans","fontSize":20,"align":"left","angle":270,"dx":-60.5,"dy":-62},"encoding":{"x":{"datum":5.39,"type":"quantitative","axis":null},"y":{"datum":7.19,"type":"quantitative","axis":null}}},
  {"data":{"values":[{}]},"mark":{"type":"text","text":"(damping)","font":"Liberation Sans","fontSize":28,"align":"left","angle":270,"dx":-49.5,"dy":-68},"encoding":{"x":{"datum":5.39,"type":"quantitative","axis":null},"y":{"datum":7.19,"type":"quantitative","axis":null}}},
  {"data":{"values":[{}]},"mark":{"type":"text","text":"α","font":"Liberation Sans","fontSize":28,"align":"left","dx":10,"dy":57},"encoding":{"x":{"datum":5.39,"type":"quantitative","axis":null},"y":{"datum":6.4,"type":"quantitative","axis":null}}},
  {"data":{"values":[{}]},"mark":{"type":"text","text":"s","font":"Liberation Sans","fontSize":20,"align":"left","dx":26,"dy":63},"encoding":{"x":{"datum":5.39,"type":"quantitative","axis":null},"y":{"datum":6.4,"type":"quantitative","axis":null}}},
  {"data":{"values":[{}]},"mark":{"type":"text","text":"(smoothing)","font":"Liberation Sans","fontSize":28,"align":"left","dx":37,"dy":57},"encoding":{"x":{"datum":5.39,"type":"quantitative","axis":null},"y":{"datum":6.4,"type":"quantitative","axis":null}}}
 ]},
 {"width":203,"height":158,"resolve":{"scale":{"x":"independent","y":"independent"},"axis":{"x":"independent","y":"independent"}},"layer":[
  {"resolve":{"axis":{"x":"independent","y":"independent"}},"layer":[
   {"data":{"name":"bands"},"transform":[{"filter":"datum.p == '2b'"}],"mark":{"type":"line","stroke":"black","strokeWidth":1.4,"strokeJoin":"round"},"encoding":{"x":{"field":"x","type":"quantitative","title":null,"scale":{"domain":[5.39,7.42],"nice":false,"zero":false},"axis":{"orient":"bottom","values":[6]}},"y":{"field":"y","type":"quantitative","title":null,"scale":{"domain":[6.4,7.98],"nice":false,"zero":false},"axis":{"orient":"left","values":[7]}},"detail":{"field":"c","type":"nominal"},"order":{"value":null},"fill":{"field":"v","type":"quantitative","scale":{"domain":[0,2000],"range":["#ffffff","#000000"]},"legend":null}}},
   {"data":{"name":"mesh"},"mark":{"type":"rule","stroke":"white","strokeOpacity":0.35,"strokeWidth":0.8},"encoding":{"x":{"field":"x1","type":"quantitative","title":null,"axis":{"orient":"top","values":[6]}},"y":{"field":"y1","type":"quantitative","title":null,"axis":{"orient":"right","values":[7]}},"x2":{"field":"x2"},"y2":{"field":"y2"}}},
   {"data":{"name":"bands"},"transform":[{"filter":"datum.p == '2b' && datum.c == 0"}],"mark":{"type":"line","stroke":"black","strokeWidth":1.6},"encoding":{"x":{"field":"x","type":"quantitative","axis":null},"y":{"field":"y","type":"quantitative","axis":null},"order":{"value":null}}},
   {"data":{"name":"plus"},"mark":{"type":"point","shape":"M-1,0L1,0M0,-1L0,1","size":100,"stroke":"black","strokeWidth":1.1,"filled":false,"opacity":1},"encoding":{"x":{"field":"x","type":"quantitative","axis":null},"y":{"field":"y","type":"quantitative","axis":null}}},
   {"data":{"name":"dots"},"mark":{"type":"circle","size":75,"fill":"white","opacity":1},"encoding":{"x":{"field":"x","type":"quantitative","axis":null},"y":{"field":"y","type":"quantitative","axis":null}}},
   {"data":{"values":[{}]},"mark":{"type":"text","text":"2b","fontSize":33,"align":"right","dx":-8,"dy":21,"fill":"white"},"encoding":{"x":{"datum":7.42,"type":"quantitative","axis":null},"y":{"datum":7.98,"type":"quantitative","axis":null}}}
  ]},
  {"resolve":{"axis":{"x":"independent","y":"independent"}},"layer":[
   {"data":{"values":[{"lo":0,"hi":2000,"b":0,"t":1}]},"mark":{"type":"rect","fill":{"gradient":"linear","x1":0,"y1":0,"x2":1,"y2":0,"stops":[{"offset":0,"color":"#ffffff"},{"offset":1,"color":"#000000"}]},"stroke":"black","strokeWidth":1.5},"encoding":{"x":{"field":"lo","type":"quantitative","title":null,"scale":{"domain":[0,2000],"nice":false,"zero":false},"axis":{"orient":"bottom","offset":64,"values":[0,1000,2000],"format":"d","labels":true,"labelFontSize":27,"labelPadding":2,"labelFlush":false,"labelOverlap":false,"labelColor":"black"}},"x2":{"field":"hi"},"y":{"field":"b","type":"quantitative","title":null,"scale":{"domain":[2,6.9375],"nice":false,"zero":false},"axis":null},"y2":{"field":"t"}}},
   {"data":{"values":[{}]},"mark":{"type":"text","text":"Size [","font":"Liberation Sans","fontSize":31,"align":"left","dx":33,"dy":1},"encoding":{"x":{"datum":2000,"type":"quantitative","axis":null},"y":{"datum":0.5,"type":"quantitative","axis":null}}},
   {"data":{"values":[{}]},"mark":{"type":"text","text":"S","font":"Liberation Sans","fontSize":31,"fontWeight":"bold","align":"left","dx":110.5,"dy":1},"encoding":{"x":{"datum":2000,"type":"quantitative","axis":null},"y":{"datum":0.5,"type":"quantitative","axis":null}}},
   {"data":{"values":[{}]},"mark":{"type":"text","text":"]","font":"Liberation Sans","fontSize":31,"align":"left","dx":131.5,"dy":1},"encoding":{"x":{"datum":2000,"type":"quantitative","axis":null},"y":{"datum":0.5,"type":"quantitative","axis":null}}}
  ]}
 ]},
 {"width":203,"height":158,"resolve":{"axis":{"x":"independent","y":"independent"}},"layer":[
  {"data":{"name":"bands"},"transform":[{"filter":"datum.p == '3b'"}],"mark":{"type":"line","stroke":"black","strokeWidth":1.4,"strokeJoin":"round"},"encoding":{"x":{"field":"x","type":"quantitative","title":null,"scale":{"domain":[5.39,7.42],"nice":false,"zero":false},"axis":{"orient":"bottom","values":[6]}},"y":{"field":"y","type":"quantitative","title":null,"scale":{"domain":[6.4,7.98],"nice":false,"zero":false},"axis":{"orient":"left","values":[7]}},"detail":{"field":"c","type":"nominal"},"order":{"value":null},"fill":{"field":"v","type":"quantitative","scale":{"domain":[0,2000],"range":["#ffffff","#000000"]},"legend":null}}},
  {"data":{"name":"mesh"},"mark":{"type":"rule","stroke":"white","strokeOpacity":0.35,"strokeWidth":0.8},"encoding":{"x":{"field":"x1","type":"quantitative","title":null,"axis":{"orient":"top","values":[6]}},"y":{"field":"y1","type":"quantitative","title":null,"axis":{"orient":"right","values":[7]}},"x2":{"field":"x2"},"y2":{"field":"y2"}}},
  {"data":{"name":"bands"},"transform":[{"filter":"datum.p == '3b' && datum.c == 0"}],"mark":{"type":"line","stroke":"black","strokeWidth":1.6},"encoding":{"x":{"field":"x","type":"quantitative","axis":null},"y":{"field":"y","type":"quantitative","axis":null},"order":{"value":null}}},
  {"data":{"name":"plus"},"mark":{"type":"point","shape":"M-1,0L1,0M0,-1L0,1","size":100,"stroke":"black","strokeWidth":1.1,"filled":false,"opacity":1},"encoding":{"x":{"field":"x","type":"quantitative","axis":null},"y":{"field":"y","type":"quantitative","axis":null}}},
  {"data":{"values":[{}]},"mark":{"type":"text","text":"3b","fontSize":33,"align":"right","dx":-12,"dy":21},"encoding":{"x":{"datum":7.42,"type":"quantitative","axis":null},"y":{"datum":7.98,"type":"quantitative","axis":null}}}
 ]},
 {"width":203,"height":158,"resolve":{"axis":{"x":"independent","y":"independent"}},"layer":[
  {"data":{"name":"bands"},"transform":[{"filter":"datum.p == '1c'"}],"mark":{"type":"line","stroke":"black","strokeWidth":1.4,"strokeJoin":"round"},"encoding":{"x":{"field":"x","type":"quantitative","title":null,"scale":{"domain":[5.39,7.42],"nice":false,"zero":false},"axis":{"orient":"bottom","values":[6]}},"y":{"field":"y","type":"quantitative","title":null,"scale":{"domain":[6.4,7.98],"nice":false,"zero":false},"axis":{"orient":"left","values":[7]}},"detail":{"field":"c","type":"nominal"},"order":{"value":null},"fill":{"field":"v","type":"quantitative","scale":{"domain":[0,3.2],"range":["#ffffff","#000000"]},"legend":null}}},
  {"data":{"name":"mesh"},"mark":{"type":"rule","stroke":"white","strokeOpacity":0.35,"strokeWidth":0.8},"encoding":{"x":{"field":"x1","type":"quantitative","title":null,"axis":{"orient":"top","values":[6]}},"y":{"field":"y1","type":"quantitative","title":null,"axis":{"orient":"right","values":[7]}},"x2":{"field":"x2"},"y2":{"field":"y2"}}},
  {"data":{"name":"bands"},"transform":[{"filter":"datum.p == '1c' && datum.c == 0"}],"mark":{"type":"line","stroke":"black","strokeWidth":1.6},"encoding":{"x":{"field":"x","type":"quantitative","axis":null},"y":{"field":"y","type":"quantitative","axis":null},"order":{"value":null}}},
  {"data":{"name":"plus"},"mark":{"type":"point","shape":"M-1,0L1,0M0,-1L0,1","size":100,"stroke":"black","strokeWidth":1.1,"filled":false,"opacity":1},"encoding":{"x":{"field":"x","type":"quantitative","axis":null},"y":{"field":"y","type":"quantitative","axis":null}}},
  {"data":{"values":[{}]},"mark":{"type":"text","text":"1c","fontSize":33,"align":"right","dx":-7,"dy":21},"encoding":{"x":{"datum":7.42,"type":"quantitative","axis":null},"y":{"datum":7.98,"type":"quantitative","axis":null}}},
  {"data":{"values":[{}]},"mark":{"type":"text","text":"10","fontSize":27,"align":"right","dx":-14,"dy":6},"encoding":{"x":{"datum":5.39,"type":"quantitative","axis":null},"y":{"datum":7,"type":"quantitative","axis":null}}},
  {"data":{"values":[{}]},"mark":{"type":"text","text":"7","fontSize":19,"align":"left","dx":-14,"dy":-5},"encoding":{"x":{"datum":5.39,"type":"quantitative","axis":null},"y":{"datum":7,"type":"quantitative","axis":null}}},
  {"data":{"values":[{}]},"mark":{"type":"text","text":"10","fontSize":27,"align":"right","dx":20,"dy":23},"encoding":{"x":{"datum":6,"type":"quantitative","axis":null},"y":{"datum":6.4,"type":"quantitative","axis":null}}},
  {"data":{"values":[{}]},"mark":{"type":"text","text":"6","fontSize":19,"align":"left","dx":20,"dy":14},"encoding":{"x":{"datum":6,"type":"quantitative","axis":null},"y":{"datum":6.4,"type":"quantitative","axis":null}}},
  {"data":{"values":[{}]},"mark":{"type":"text","text":"α","font":"Liberation Sans","fontSize":28,"align":"left","angle":270,"dx":-76.5,"dy":-68},"encoding":{"x":{"datum":5.39,"type":"quantitative","axis":null},"y":{"datum":7.19,"type":"quantitative","axis":null}}},
  {"data":{"values":[{}]},"mark":{"type":"text","text":"d","font":"Liberation Sans","fontSize":20,"align":"left","angle":270,"dx":-60.5,"dy":-62},"encoding":{"x":{"datum":5.39,"type":"quantitative","axis":null},"y":{"datum":7.19,"type":"quantitative","axis":null}}},
  {"data":{"values":[{}]},"mark":{"type":"text","text":"(damping)","font":"Liberation Sans","fontSize":28,"align":"left","angle":270,"dx":-49.5,"dy":-68},"encoding":{"x":{"datum":5.39,"type":"quantitative","axis":null},"y":{"datum":7.19,"type":"quantitative","axis":null}}},
  {"data":{"values":[{}]},"mark":{"type":"text","text":"α","font":"Liberation Sans","fontSize":28,"align":"left","dx":10,"dy":57},"encoding":{"x":{"datum":5.39,"type":"quantitative","axis":null},"y":{"datum":6.4,"type":"quantitative","axis":null}}},
  {"data":{"values":[{}]},"mark":{"type":"text","text":"s","font":"Liberation Sans","fontSize":20,"align":"left","dx":26,"dy":63},"encoding":{"x":{"datum":5.39,"type":"quantitative","axis":null},"y":{"datum":6.4,"type":"quantitative","axis":null}}},
  {"data":{"values":[{}]},"mark":{"type":"text","text":"(smoothing)","font":"Liberation Sans","fontSize":28,"align":"left","dx":37,"dy":57},"encoding":{"x":{"datum":5.39,"type":"quantitative","axis":null},"y":{"datum":6.4,"type":"quantitative","axis":null}}}
 ]},
 {"width":203,"height":158,"resolve":{"scale":{"x":"independent","y":"independent"},"axis":{"x":"independent","y":"independent"}},"layer":[
  {"resolve":{"axis":{"x":"independent","y":"independent"}},"layer":[
   {"data":{"name":"bands"},"transform":[{"filter":"datum.p == '2c'"}],"mark":{"type":"line","stroke":"black","strokeWidth":1.4,"strokeJoin":"round"},"encoding":{"x":{"field":"x","type":"quantitative","title":null,"scale":{"domain":[5.39,7.42],"nice":false,"zero":false},"axis":{"orient":"bottom","values":[6]}},"y":{"field":"y","type":"quantitative","title":null,"scale":{"domain":[6.4,7.98],"nice":false,"zero":false},"axis":{"orient":"left","values":[7]}},"detail":{"field":"c","type":"nominal"},"order":{"value":null},"fill":{"field":"v","type":"quantitative","scale":{"domain":[0,3.2],"range":["#ffffff","#000000"]},"legend":null}}},
   {"data":{"name":"mesh"},"mark":{"type":"rule","stroke":"white","strokeOpacity":0.35,"strokeWidth":0.8},"encoding":{"x":{"field":"x1","type":"quantitative","title":null,"axis":{"orient":"top","values":[6]}},"y":{"field":"y1","type":"quantitative","title":null,"axis":{"orient":"right","values":[7]}},"x2":{"field":"x2"},"y2":{"field":"y2"}}},
   {"data":{"name":"bands"},"transform":[{"filter":"datum.p == '2c' && datum.c == 0"}],"mark":{"type":"line","stroke":"black","strokeWidth":1.6},"encoding":{"x":{"field":"x","type":"quantitative","axis":null},"y":{"field":"y","type":"quantitative","axis":null},"order":{"value":null}}},
   {"data":{"name":"plus"},"mark":{"type":"point","shape":"M-1,0L1,0M0,-1L0,1","size":100,"stroke":"black","strokeWidth":1.1,"filled":false,"opacity":1},"encoding":{"x":{"field":"x","type":"quantitative","axis":null},"y":{"field":"y","type":"quantitative","axis":null}}},
   {"data":{"name":"dots"},"mark":{"type":"circle","size":75,"fill":"white","opacity":1},"encoding":{"x":{"field":"x","type":"quantitative","axis":null},"y":{"field":"y","type":"quantitative","axis":null}}},
   {"data":{"values":[{}]},"mark":{"type":"text","text":"2c","fontSize":33,"align":"right","dx":-9,"dy":21},"encoding":{"x":{"datum":7.42,"type":"quantitative","axis":null},"y":{"datum":7.98,"type":"quantitative","axis":null}}}
  ]},
  {"resolve":{"axis":{"x":"independent","y":"independent"}},"layer":[
   {"data":{"values":[{"lo":0,"hi":3.2,"b":0,"t":1}]},"mark":{"type":"rect","fill":{"gradient":"linear","x1":0,"y1":0,"x2":1,"y2":0,"stops":[{"offset":0,"color":"#ffffff"},{"offset":1,"color":"#000000"}]},"stroke":"black","strokeWidth":1.5},"encoding":{"x":{"field":"lo","type":"quantitative","title":null,"scale":{"domain":[0,3.2],"nice":false,"zero":false},"axis":{"orient":"bottom","offset":64,"values":[0,1,2,3],"format":"d","labels":true,"labelFontSize":27,"labelPadding":2,"labelFlush":false,"labelOverlap":false,"labelColor":"black"}},"x2":{"field":"hi"},"y":{"field":"b","type":"quantitative","title":null,"scale":{"domain":[2,6.9375],"nice":false,"zero":false},"axis":null},"y2":{"field":"t"}}},
   {"data":{"values":[{}]},"mark":{"type":"text","text":["Misfit extra","constraints"],"font":"Liberation Sans","lineHeight":36,"fontSize":31,"align":"left","dx":33,"dy":-4},"encoding":{"x":{"datum":3.2,"type":"quantitative","axis":null},"y":{"datum":0.5,"type":"quantitative","axis":null}}}
  ]}
 ]},
 {"width":203,"height":158,"resolve":{"axis":{"x":"independent","y":"independent"}},"layer":[
  {"data":{"name":"bands"},"transform":[{"filter":"datum.p == '3c'"}],"mark":{"type":"line","stroke":"black","strokeWidth":1.4,"strokeJoin":"round"},"encoding":{"x":{"field":"x","type":"quantitative","title":null,"scale":{"domain":[5.39,7.42],"nice":false,"zero":false},"axis":{"orient":"bottom","values":[6]}},"y":{"field":"y","type":"quantitative","title":null,"scale":{"domain":[6.4,7.98],"nice":false,"zero":false},"axis":{"orient":"left","values":[7]}},"detail":{"field":"c","type":"nominal"},"order":{"value":null},"fill":{"field":"v","type":"quantitative","scale":{"domain":[0,3.2],"range":["#ffffff","#000000"]},"legend":null}}},
  {"data":{"name":"mesh"},"mark":{"type":"rule","stroke":"white","strokeOpacity":0.35,"strokeWidth":0.8},"encoding":{"x":{"field":"x1","type":"quantitative","title":null,"axis":{"orient":"top","values":[6]}},"y":{"field":"y1","type":"quantitative","title":null,"axis":{"orient":"right","values":[7]}},"x2":{"field":"x2"},"y2":{"field":"y2"}}},
  {"data":{"name":"bands"},"transform":[{"filter":"datum.p == '3c' && datum.c == 0"}],"mark":{"type":"line","stroke":"black","strokeWidth":1.6},"encoding":{"x":{"field":"x","type":"quantitative","axis":null},"y":{"field":"y","type":"quantitative","axis":null},"order":{"value":null}}},
  {"data":{"name":"plus"},"mark":{"type":"point","shape":"M-1,0L1,0M0,-1L0,1","size":100,"stroke":"black","strokeWidth":1.1,"filled":false,"opacity":1},"encoding":{"x":{"field":"x","type":"quantitative","axis":null},"y":{"field":"y","type":"quantitative","axis":null}}},
  {"data":{"values":[{}]},"mark":{"type":"text","text":"3c","fontSize":33,"align":"right","dx":-13,"dy":21,"fill":"white"},"encoding":{"x":{"datum":7.42,"type":"quantitative","axis":null},"y":{"datum":7.98,"type":"quantitative","axis":null}}}
 ]},
 {"width":203,"height":158,"resolve":{"axis":{"x":"independent","y":"independent"}},"layer":[
  {"data":{"name":"bands"},"transform":[{"filter":"datum.p == '1d'"}],"mark":{"type":"line","stroke":"black","strokeWidth":1.4,"strokeJoin":"round"},"encoding":{"x":{"field":"x","type":"quantitative","title":null,"scale":{"domain":[5.39,7.42],"nice":false,"zero":false},"axis":{"orient":"bottom","values":[6]}},"y":{"field":"y","type":"quantitative","title":null,"scale":{"domain":[6.4,7.98],"nice":false,"zero":false},"axis":{"orient":"left","values":[7]}},"detail":{"field":"c","type":"nominal"},"order":{"value":null},"fill":{"field":"v","type":"quantitative","scale":{"domain":[0,3.2],"range":["#ffffff","#000000"]},"legend":null}}},
  {"data":{"name":"mesh"},"mark":{"type":"rule","stroke":"white","strokeOpacity":0.35,"strokeWidth":0.8},"encoding":{"x":{"field":"x1","type":"quantitative","title":null,"axis":{"orient":"top","values":[6]}},"y":{"field":"y1","type":"quantitative","title":null,"axis":{"orient":"right","values":[7]}},"x2":{"field":"x2"},"y2":{"field":"y2"}}},
  {"data":{"name":"bands"},"transform":[{"filter":"datum.p == '1d' && datum.c == 0"}],"mark":{"type":"line","stroke":"black","strokeWidth":1.6},"encoding":{"x":{"field":"x","type":"quantitative","axis":null},"y":{"field":"y","type":"quantitative","axis":null},"order":{"value":null}}},
  {"data":{"name":"plus"},"mark":{"type":"point","shape":"M-1,0L1,0M0,-1L0,1","size":100,"stroke":"black","strokeWidth":1.1,"filled":false,"opacity":1},"encoding":{"x":{"field":"x","type":"quantitative","axis":null},"y":{"field":"y","type":"quantitative","axis":null}}},
  {"data":{"values":[{}]},"mark":{"type":"text","text":"1d","fontSize":33,"align":"right","dx":-5,"dy":21,"fill":"white"},"encoding":{"x":{"datum":7.42,"type":"quantitative","axis":null},"y":{"datum":7.98,"type":"quantitative","axis":null}}},
  {"data":{"values":[{}]},"mark":{"type":"text","text":"10","fontSize":27,"align":"right","dx":-14,"dy":6},"encoding":{"x":{"datum":5.39,"type":"quantitative","axis":null},"y":{"datum":7,"type":"quantitative","axis":null}}},
  {"data":{"values":[{}]},"mark":{"type":"text","text":"7","fontSize":19,"align":"left","dx":-14,"dy":-5},"encoding":{"x":{"datum":5.39,"type":"quantitative","axis":null},"y":{"datum":7,"type":"quantitative","axis":null}}},
  {"data":{"values":[{}]},"mark":{"type":"text","text":"10","fontSize":27,"align":"right","dx":20,"dy":23},"encoding":{"x":{"datum":6,"type":"quantitative","axis":null},"y":{"datum":6.4,"type":"quantitative","axis":null}}},
  {"data":{"values":[{}]},"mark":{"type":"text","text":"6","fontSize":19,"align":"left","dx":20,"dy":14},"encoding":{"x":{"datum":6,"type":"quantitative","axis":null},"y":{"datum":6.4,"type":"quantitative","axis":null}}},
  {"data":{"values":[{}]},"mark":{"type":"text","text":"α","font":"Liberation Sans","fontSize":28,"align":"left","angle":270,"dx":-76.5,"dy":-68},"encoding":{"x":{"datum":5.39,"type":"quantitative","axis":null},"y":{"datum":7.19,"type":"quantitative","axis":null}}},
  {"data":{"values":[{}]},"mark":{"type":"text","text":"d","font":"Liberation Sans","fontSize":20,"align":"left","angle":270,"dx":-60.5,"dy":-62},"encoding":{"x":{"datum":5.39,"type":"quantitative","axis":null},"y":{"datum":7.19,"type":"quantitative","axis":null}}},
  {"data":{"values":[{}]},"mark":{"type":"text","text":"(damping)","font":"Liberation Sans","fontSize":28,"align":"left","angle":270,"dx":-49.5,"dy":-68},"encoding":{"x":{"datum":5.39,"type":"quantitative","axis":null},"y":{"datum":7.19,"type":"quantitative","axis":null}}},
  {"data":{"values":[{}]},"mark":{"type":"text","text":"α","font":"Liberation Sans","fontSize":28,"align":"left","dx":10,"dy":57},"encoding":{"x":{"datum":5.39,"type":"quantitative","axis":null},"y":{"datum":6.4,"type":"quantitative","axis":null}}},
  {"data":{"values":[{}]},"mark":{"type":"text","text":"s","font":"Liberation Sans","fontSize":20,"align":"left","dx":26,"dy":63},"encoding":{"x":{"datum":5.39,"type":"quantitative","axis":null},"y":{"datum":6.4,"type":"quantitative","axis":null}}},
  {"data":{"values":[{}]},"mark":{"type":"text","text":"(smoothing)","font":"Liberation Sans","fontSize":28,"align":"left","dx":37,"dy":57},"encoding":{"x":{"datum":5.39,"type":"quantitative","axis":null},"y":{"datum":6.4,"type":"quantitative","axis":null}}}
 ]},
 {"width":203,"height":158,"resolve":{"scale":{"x":"independent","y":"independent"},"axis":{"x":"independent","y":"independent"}},"layer":[
  {"resolve":{"axis":{"x":"independent","y":"independent"}},"layer":[
   {"data":{"name":"bands"},"transform":[{"filter":"datum.p == '2d'"}],"mark":{"type":"line","stroke":"black","strokeWidth":1.4,"strokeJoin":"round"},"encoding":{"x":{"field":"x","type":"quantitative","title":null,"scale":{"domain":[5.39,7.42],"nice":false,"zero":false},"axis":{"orient":"bottom","values":[6]}},"y":{"field":"y","type":"quantitative","title":null,"scale":{"domain":[6.4,7.98],"nice":false,"zero":false},"axis":{"orient":"left","values":[7]}},"detail":{"field":"c","type":"nominal"},"order":{"value":null},"fill":{"field":"v","type":"quantitative","scale":{"domain":[0,3.2],"range":["#ffffff","#000000"]},"legend":null}}},
   {"data":{"name":"mesh"},"mark":{"type":"rule","stroke":"white","strokeOpacity":0.35,"strokeWidth":0.8},"encoding":{"x":{"field":"x1","type":"quantitative","title":null,"axis":{"orient":"top","values":[6]}},"y":{"field":"y1","type":"quantitative","title":null,"axis":{"orient":"right","values":[7]}},"x2":{"field":"x2"},"y2":{"field":"y2"}}},
   {"data":{"name":"bands"},"transform":[{"filter":"datum.p == '2d' && datum.c == 0"}],"mark":{"type":"line","stroke":"black","strokeWidth":1.6},"encoding":{"x":{"field":"x","type":"quantitative","axis":null},"y":{"field":"y","type":"quantitative","axis":null},"order":{"value":null}}},
   {"data":{"name":"plus"},"mark":{"type":"point","shape":"M-1,0L1,0M0,-1L0,1","size":100,"stroke":"black","strokeWidth":1.1,"filled":false,"opacity":1},"encoding":{"x":{"field":"x","type":"quantitative","axis":null},"y":{"field":"y","type":"quantitative","axis":null}}},
   {"data":{"name":"dots"},"mark":{"type":"circle","size":75,"fill":"white","opacity":1},"encoding":{"x":{"field":"x","type":"quantitative","axis":null},"y":{"field":"y","type":"quantitative","axis":null}}},
   {"data":{"values":[{}]},"mark":{"type":"text","text":"2d","fontSize":33,"align":"right","dx":-8,"dy":21,"fill":"white"},"encoding":{"x":{"datum":7.42,"type":"quantitative","axis":null},"y":{"datum":7.98,"type":"quantitative","axis":null}}}
  ]},
  {"resolve":{"axis":{"x":"independent","y":"independent"}},"layer":[
   {"data":{"values":[{"lo":0,"hi":3.2,"b":0,"t":1}]},"mark":{"type":"rect","fill":{"gradient":"linear","x1":0,"y1":0,"x2":1,"y2":0,"stops":[{"offset":0,"color":"#ffffff"},{"offset":1,"color":"#000000"}]},"stroke":"black","strokeWidth":1.5},"encoding":{"x":{"field":"lo","type":"quantitative","title":null,"scale":{"domain":[0,3.2],"nice":false,"zero":false},"axis":{"orient":"bottom","offset":64,"values":[0,1,2,3],"format":"d","labels":true,"labelFontSize":27,"labelPadding":2,"labelFlush":false,"labelOverlap":false,"labelColor":"black"}},"x2":{"field":"hi"},"y":{"field":"b","type":"quantitative","title":null,"scale":{"domain":[2,6.9375],"nice":false,"zero":false},"axis":null},"y2":{"field":"t"}}},
   {"data":{"values":[{}]},"mark":{"type":"text","text":"Misfit GPS data","font":"Liberation Sans","fontSize":31,"align":"left","dx":33,"dy":0},"encoding":{"x":{"datum":3.2,"type":"quantitative","axis":null},"y":{"datum":0.5,"type":"quantitative","axis":null}}}
  ]}
 ]},
 {"width":203,"height":158,"resolve":{"axis":{"x":"independent","y":"independent"}},"layer":[
  {"data":{"name":"bands"},"transform":[{"filter":"datum.p == '3d'"}],"mark":{"type":"line","stroke":"black","strokeWidth":1.4,"strokeJoin":"round"},"encoding":{"x":{"field":"x","type":"quantitative","title":null,"scale":{"domain":[5.39,7.42],"nice":false,"zero":false},"axis":{"orient":"bottom","values":[6]}},"y":{"field":"y","type":"quantitative","title":null,"scale":{"domain":[6.4,7.98],"nice":false,"zero":false},"axis":{"orient":"left","values":[7]}},"detail":{"field":"c","type":"nominal"},"order":{"value":null},"fill":{"field":"v","type":"quantitative","scale":{"domain":[0,3.2],"range":["#ffffff","#000000"]},"legend":null}}},
  {"data":{"name":"mesh"},"mark":{"type":"rule","stroke":"white","strokeOpacity":0.35,"strokeWidth":0.8},"encoding":{"x":{"field":"x1","type":"quantitative","title":null,"axis":{"orient":"top","values":[6]}},"y":{"field":"y1","type":"quantitative","title":null,"axis":{"orient":"right","values":[7]}},"x2":{"field":"x2"},"y2":{"field":"y2"}}},
  {"data":{"name":"bands"},"transform":[{"filter":"datum.p == '3d' && datum.c == 0"}],"mark":{"type":"line","stroke":"black","strokeWidth":1.6},"encoding":{"x":{"field":"x","type":"quantitative","axis":null},"y":{"field":"y","type":"quantitative","axis":null},"order":{"value":null}}},
  {"data":{"name":"plus"},"mark":{"type":"point","shape":"M-1,0L1,0M0,-1L0,1","size":100,"stroke":"black","strokeWidth":1.1,"filled":false,"opacity":1},"encoding":{"x":{"field":"x","type":"quantitative","axis":null},"y":{"field":"y","type":"quantitative","axis":null}}},
  {"data":{"values":[{}]},"mark":{"type":"text","text":"3d","fontSize":33,"align":"right","dx":-12,"dy":21,"fill":"white"},"encoding":{"x":{"datum":7.42,"type":"quantitative","axis":null},"y":{"datum":7.98,"type":"quantitative","axis":null}}}
 ]}
]
}
